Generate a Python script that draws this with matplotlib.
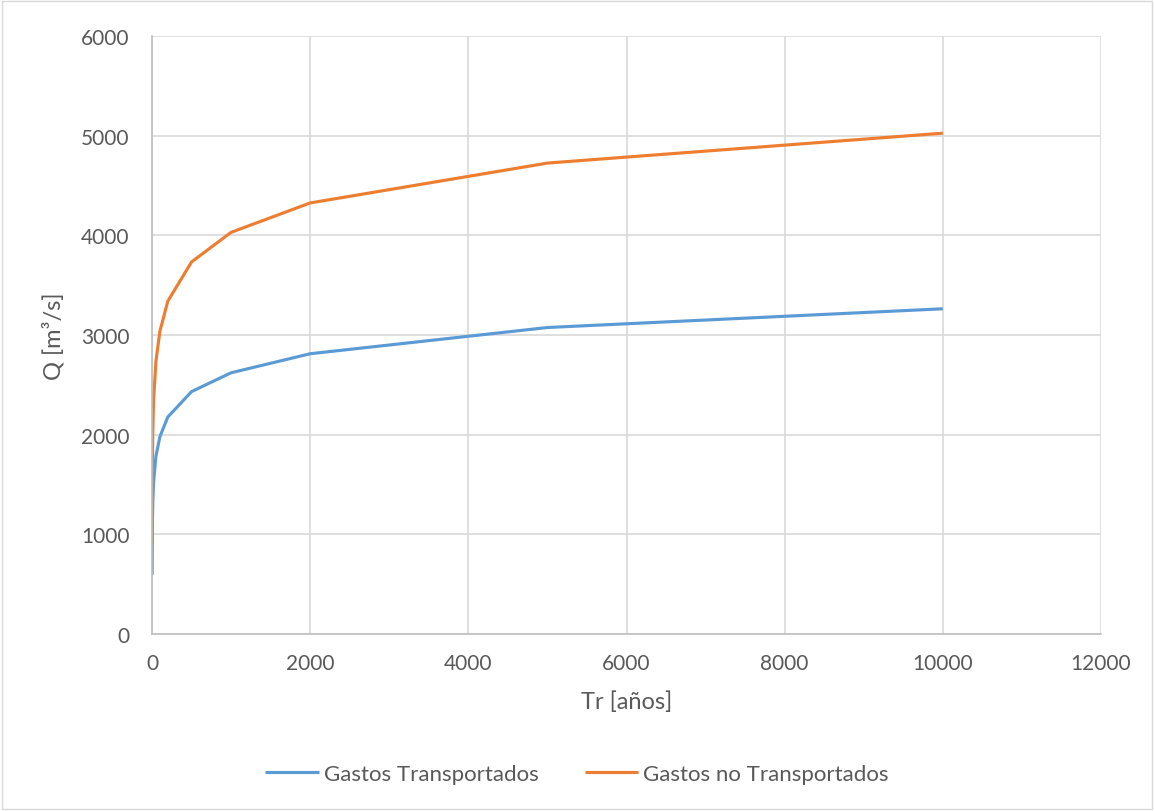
import matplotlib.pyplot as plt

# periodos de retorno y gastos
tr = [2, 5, 10, 20, 50, 100, 200, 500, 1000, 2000, 5000, 10000]
q_transp = [595, 1110, 1320, 1525, 1786, 1980, 2177, 2432, 2621, 2812, 3075, 3263]
q_no_transp = [900, 1705, 2030, 2340, 2738, 3038, 3339, 3733, 4030, 4325, 4725, 5025]

x_ticks = [0, 2000, 4000, 6000, 8000, 10000, 12000]
y_ticks = [0, 1000, 2000, 3000, 4000, 5000, 6000]

gris = '#595959'
plt.rcParams['font.family'] = ['Lato', 'DejaVu Sans']

fig = plt.figure(figsize=(11.54, 8.12), dpi=100)
ax = fig.add_axes([152 / 1154, 1 - 635 / 812, (1101 - 152) / 1154, (635 - 37) / 812])

ax.plot(tr, q_transp, color='#5b9bd5', lw=2.25, label='Gastos Transportados', solid_capstyle='butt')
ax.plot(tr, q_no_transp, color='#ed7d31', lw=2.25, label='Gastos no Transportados', solid_capstyle='butt')

ax.set_xlim(0, 12000)
ax.set_ylim(0, 6000)
ax.set_xticks(x_ticks)
ax.set_yticks(y_ticks)
ax.grid(True, color='#d9d9d9', lw=1.2)
ax.set_axisbelow(True)
for s in ['top', 'right']:
    ax.spines[s].set_visible(False)
for s in ['left', 'bottom']:
    ax.spines[s].set_color('#bfbfbf')
    ax.spines[s].set_linewidth(1.2)
ax.tick_params(length=0, labelsize=15, colors=gris)
ax.tick_params(axis='x', pad=14)
ax.tick_params(axis='y', pad=16)

ax.set_xlabel('Tr [años]', fontsize=17, color=gris, labelpad=12)
ax.set_ylabel('Q [m³/s]', fontsize=17, color=gris, labelpad=12)

fig.legend(loc='center', bbox_to_anchor=(0.5, 1 - 775 / 812), ncol=2, frameon=False,
           fontsize=16, labelcolor=gris, handlelength=2.4, handletextpad=0.22, columnspacing=2.1)

# borde del area del grafico
fig.patches.append(plt.Rectangle((0.002, 0.002), 0.996, 0.996, transform=fig.transFigure,
                                 fill=False, edgecolor='#d9d9d9', lw=1))

fig.savefig('out.png', dpi=100)
